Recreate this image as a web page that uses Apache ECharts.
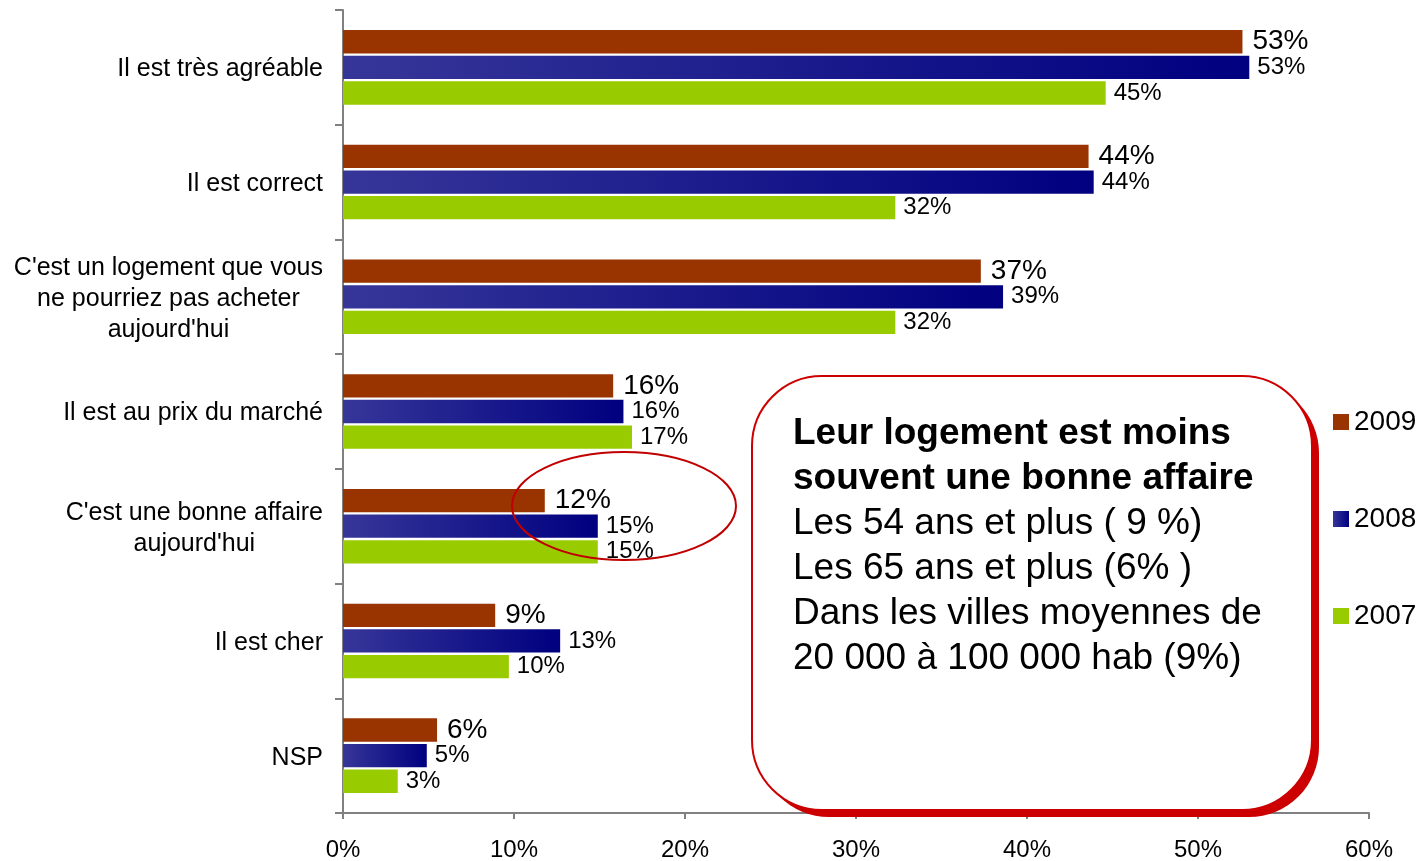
<!DOCTYPE html>
<html>
<head>
<meta charset="utf-8">
<script src="https://cdn.jsdelivr.net/npm/echarts@6/dist/echarts.min.js"></script>
<style>
html, body { margin: 0; padding: 0; background: #fff; }
#chart { width: 1419px; height: 861px; }
</style>
</head>
<body>
<div id="chart"></div>
<script>
// categories, top to bottom
var categories = [
	'Il est très agréable',
	'Il est correct',
	"C'est un logement que vous\nne pourriez pas acheter\naujourd'hui",
	'Il est au prix du marché',
	"C'est une bonne affaire\naujourd'hui",
	'Il est cher',
	'NSP'
];
var years = ['2009', '2008', '2007'];
var values2009 = [52.6, 43.6, 37.3, 15.8, 11.8, 8.9, 5.5];
var values2008 = [53.0, 43.9, 38.6, 16.4, 14.9, 12.7, 4.9];
var values2007 = [44.6, 32.3, 32.3, 16.9, 14.9, 9.7, 3.2];
var xTicks = [0, 10, 20, 30, 40, 50, 60];

var boxLines = [
	'{b|Leur logement est moins}',
	'{b|souvent une bonne affaire}',
	'{n|Les 54 ans et plus ( 9 %)}',
	'{n|Les 65 ans et plus (6% )}',
	'{n|Dans les villes moyennes de}',
	'{n|20 000 à 100 000 hab (9%)}'
];

(function () {
	var font = 'Liberation Sans, Arial, sans-serif';
	var myChart = echarts.init(document.getElementById('chart'));

	function pct(p) { return Math.round(p.value) + '%'; }

	var option = {
		animation: false,
		textStyle: { fontFamily: font, color: '#000' },
		grid: { left: 343, right: 50, top: 10, bottom: 48, containLabel: false, outerBoundsMode: 'none' },
		legend: {
			orient: 'vertical',
			left: 1328,
			top: 403,
			itemWidth: 16,
			itemHeight: 16,
			itemGap: 69,
			itemTextGap: 8,
			icon: 'rect',
			data: years,
			textStyle: { fontSize: 28, color: '#000', fontFamily: font }
		},
		xAxis: {
			type: 'value',
			min: xTicks[0],
			max: xTicks[xTicks.length - 1],
			interval: 10,
			axisLine: { show: true, lineStyle: { color: '#808080', width: 2 } },
			axisTick: { show: true, length: 6, lineStyle: { color: '#808080', width: 2 } },
			splitLine: { show: false },
			axisLabel: {
				formatter: '{value}%',
				fontSize: 24,
				color: '#000',
				margin: 25,
				fontFamily: font
			}
		},
		yAxis: {
			type: 'category',
			inverse: true,
			data: categories,
			axisLine: { show: true, lineStyle: { color: '#808080', width: 2 } },
			axisTick: { show: true, length: 8, lineStyle: { color: '#808080', width: 2 } },
			axisLabel: {
				margin: 20,
				fontSize: 25,
				color: '#000',
				fontFamily: font,
				lineHeight: 31,
				formatter: function (v) {
					return v.split('\n').map(function (l) { return '{c|' + l + '}'; }).join('\n');
				},
				rich: {
					c: { align: 'center', fontSize: 25, lineHeight: 31, padding: [4, 0, 0, 0], color: '#000', fontFamily: font }
				}
			}
		},
		series: [
			{
				name: years[0],
				type: 'bar',
				data: values2009,
				barGap: '10%',
				barCategoryGap: '35%',
				itemStyle: { color: '#993300' },
				label: { show: true, position: 'right', distance: 10, fontSize: 28, color: '#000', fontFamily: font, formatter: pct }
			},
			{
				name: years[1],
				type: 'bar',
				data: values2008,
				itemStyle: {
					color: new echarts.graphic.LinearGradient(0, 0, 1, 0, [
						{ offset: 0, color: '#363699' },
						{ offset: 1, color: '#000080' }
					])
				},
				label: { show: true, position: 'right', distance: 8, fontSize: 24, color: '#000', fontFamily: font, formatter: pct }
			},
			{
				name: years[2],
				type: 'bar',
				data: values2007,
				itemStyle: { color: '#99cc00' },
				label: { show: true, position: 'right', distance: 8, fontSize: 24, color: '#000', fontFamily: font, formatter: pct }
			}
		],
		graphic: [
			{
				type: 'ellipse',
				z: 100,
				shape: { cx: 624, cy: 506, rx: 112, ry: 54 },
				style: { fill: 'none', stroke: '#c00000', lineWidth: 2 }
			},
			{
				type: 'rect',
				z: 100,
				shape: { x: 759, y: 383, width: 560, height: 434, r: 70 },
				style: { fill: '#cc0000' }
			},
			{
				type: 'rect',
				z: 101,
				shape: { x: 752, y: 376, width: 560, height: 434, r: 70 },
				style: { fill: '#fff', stroke: '#cc0000', lineWidth: 2 }
			},
			{
				type: 'text',
				z: 102,
				x: 793,
				y: 411,
				style: {
					text: boxLines.join('\n'),
					rich: {
						b: { fontSize: 37, fontWeight: 'bold', lineHeight: 45, fill: '#000', fontFamily: font },
						n: { fontSize: 37, lineHeight: 45, fill: '#000', fontFamily: font }
					}
				}
			}
		]
	};
	myChart.setOption(option);
})();
</script>
</body>
</html>
